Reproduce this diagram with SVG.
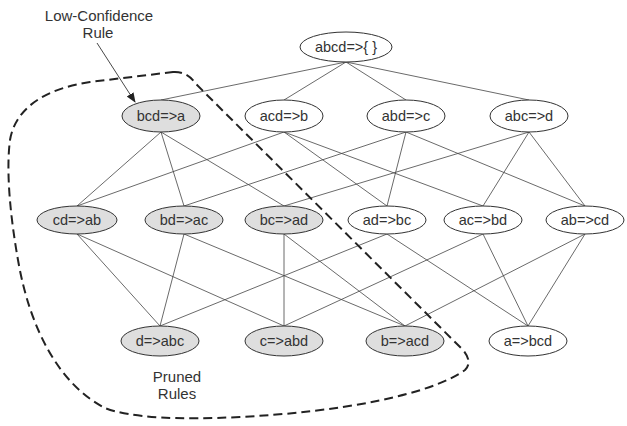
<svg xmlns="http://www.w3.org/2000/svg" width="627" height="426" viewBox="0 0 627 426">
<defs>
<style>
.n ellipse{fill:#ffffff;stroke:#333;stroke-width:1}
.n.p ellipse{fill:#dedede}
text{font-family:"Liberation Sans",Arial,sans-serif;font-size:14.5px;fill:#333;text-anchor:middle}
.lbl{font-size:15px}
#edges line{stroke:#444;stroke-width:0.8}
</style>
<marker id="ah" markerWidth="10" markerHeight="10" refX="9" refY="5" orient="auto" markerUnits="userSpaceOnUse">
<path d="M0,1 L10,5 L0,9 Z" fill="#222"/>
</marker>
</defs>
<rect width="627" height="426" fill="#fff"/>
<g id="edges">
<line x1="346" y1="62" x2="161" y2="100"/>
<line x1="346" y1="62" x2="284" y2="100"/>
<line x1="346" y1="62" x2="406" y2="100"/>
<line x1="346" y1="62" x2="529" y2="100"/>
<line x1="161" y1="132" x2="77" y2="206"/>
<line x1="161" y1="132" x2="184" y2="206"/>
<line x1="161" y1="132" x2="284" y2="206"/>
<line x1="284" y1="132" x2="77" y2="206"/>
<line x1="284" y1="132" x2="387" y2="206"/>
<line x1="284" y1="132" x2="483" y2="206"/>
<line x1="406" y1="132" x2="184" y2="206"/>
<line x1="406" y1="132" x2="387" y2="206"/>
<line x1="406" y1="132" x2="585" y2="206"/>
<line x1="529" y1="132" x2="284" y2="206"/>
<line x1="529" y1="132" x2="483" y2="206"/>
<line x1="529" y1="132" x2="585" y2="206"/>
<line x1="77" y1="234" x2="160" y2="326"/>
<line x1="77" y1="234" x2="284" y2="326"/>
<line x1="184" y1="234" x2="160" y2="326"/>
<line x1="184" y1="234" x2="405" y2="326"/>
<line x1="284" y1="234" x2="284" y2="326"/>
<line x1="284" y1="234" x2="405" y2="326"/>
<line x1="387" y1="234" x2="160" y2="326"/>
<line x1="387" y1="234" x2="528" y2="326"/>
<line x1="483" y1="234" x2="284" y2="326"/>
<line x1="483" y1="234" x2="528" y2="326"/>
<line x1="585" y1="234" x2="405" y2="326"/>
<line x1="585" y1="234" x2="528" y2="326"/>
</g>
<g id="n-abcd" class="n"><ellipse cx="346" cy="47" rx="46" ry="15"/><text x="346" y="52">abcd=&gt;{ }</text></g>
<g id="n-bcd-a" class="n p"><ellipse cx="161" cy="116" rx="39" ry="16"/><text x="161" y="121">bcd=&gt;a</text></g>
<g id="n-acd-b" class="n"><ellipse cx="284" cy="116" rx="39" ry="16"/><text x="284" y="121">acd=&gt;b</text></g>
<g id="n-abd-c" class="n"><ellipse cx="406" cy="116" rx="39" ry="16"/><text x="406" y="121">abd=&gt;c</text></g>
<g id="n-abc-d" class="n"><ellipse cx="529" cy="116" rx="39" ry="16"/><text x="529" y="121">abc=&gt;d</text></g>
<g id="n-cd-ab" class="n p"><ellipse cx="77" cy="220" rx="40" ry="14"/><text x="77" y="225">cd=&gt;ab</text></g>
<g id="n-bd-ac" class="n p"><ellipse cx="184" cy="220" rx="39" ry="14"/><text x="184" y="225">bd=&gt;ac</text></g>
<g id="n-bc-ad" class="n p"><ellipse cx="284" cy="220" rx="39" ry="14"/><text x="284" y="225">bc=&gt;ad</text></g>
<g id="n-ad-bc" class="n"><ellipse cx="387" cy="220" rx="39" ry="14"/><text x="387" y="225">ad=&gt;bc</text></g>
<g id="n-ac-bd" class="n"><ellipse cx="483" cy="220" rx="39" ry="14"/><text x="483" y="225">ac=&gt;bd</text></g>
<g id="n-ab-cd" class="n"><ellipse cx="585" cy="220" rx="39" ry="14"/><text x="585" y="225">ab=&gt;cd</text></g>
<g id="n-d-abc" class="n p"><ellipse cx="160" cy="341" rx="39" ry="15"/><text x="160" y="346">d=&gt;abc</text></g>
<g id="n-c-abd" class="n p"><ellipse cx="284" cy="341" rx="39" ry="15"/><text x="284" y="346">c=&gt;abd</text></g>
<g id="n-b-acd" class="n p"><ellipse cx="405" cy="341" rx="39" ry="15"/><text x="405" y="346">b=&gt;acd</text></g>
<g id="n-a-bcd" class="n"><ellipse cx="528" cy="341" rx="39" ry="15"/><text x="528" y="346">a=&gt;bcd</text></g>
<g id="pruned-region">
<path d="M173,72 Q187,71 196,84 L463,350 Q473,362 465,370 C430,395 340,412 240,417 C180,420 130,418 105,408 C60,385 30,330 18,260 C10,215 6,170 10,140 C16,105 50,88 90,82 Z" fill="none" stroke="#222" stroke-width="2" stroke-dasharray="9,5"/>
</g>
<g id="label-low">
<text class="lbl" x="99" y="21">Low-Confidence</text>
<text class="lbl" x="98" y="38">Rule</text>
<line x1="97" y1="43" x2="135" y2="102" stroke="#333" stroke-width="0.9" marker-end="url(#ah)"/>
</g>
<g id="label-pruned">
<text class="lbl" x="177" y="382">Pruned</text>
<text class="lbl" x="177" y="399">Rules</text>
</g>
</svg>
